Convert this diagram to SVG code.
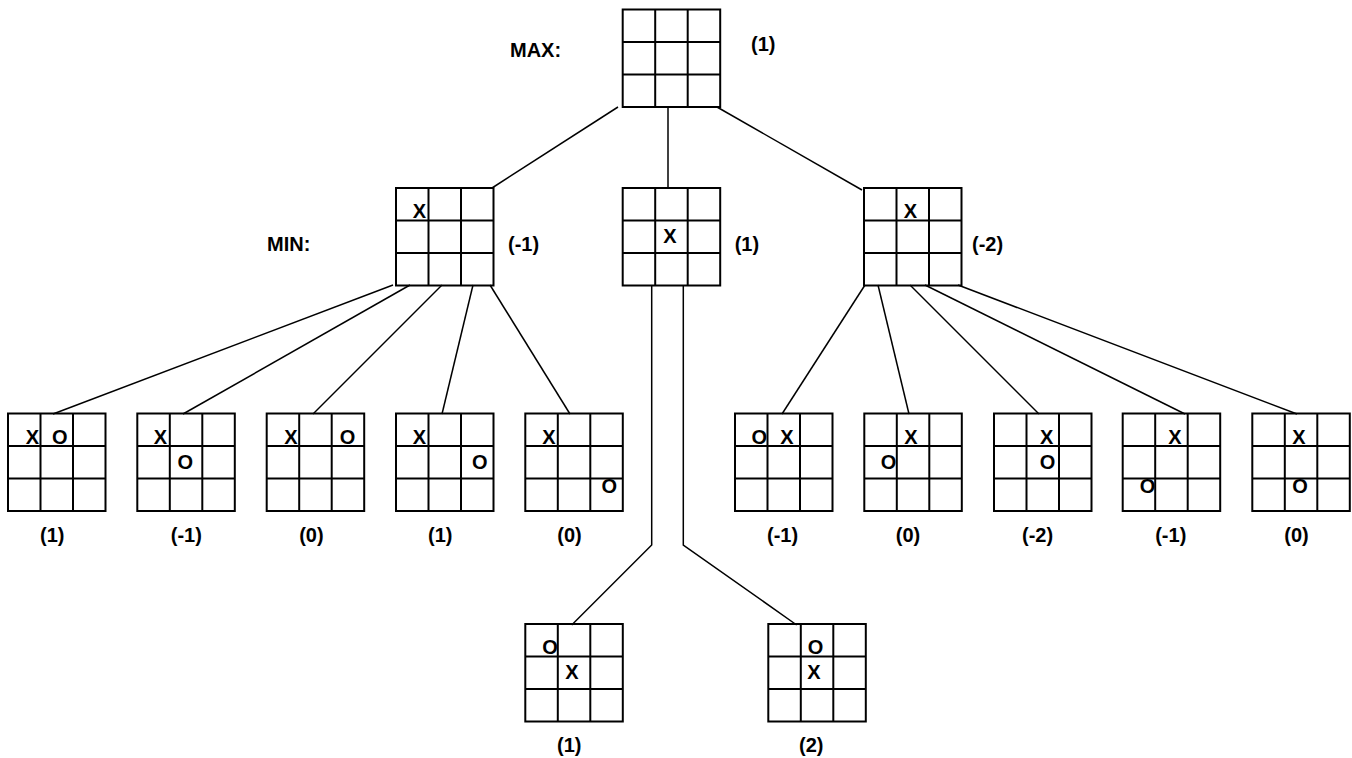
<svg xmlns="http://www.w3.org/2000/svg" xmlns:xlink="http://www.w3.org/1999/xlink" width="1352" height="758" viewBox="0 0 1352 758">
<style>
.grid{fill:none;stroke:#000;stroke-width:2}
.conn line,.conn polyline{stroke:#000;stroke-width:1.5;fill:none}
text{font-family:"Liberation Sans",Arial,sans-serif;font-weight:bold;font-size:20px;fill:#000}
.m{text-anchor:middle}
</style>
<defs>
<g id="board" class="grid">
<rect x="0" y="0" width="97.5" height="97.5"/>
<line x1="32.5" y1="0" x2="32.5" y2="97.5"/>
<line x1="65" y1="0" x2="65" y2="97.5"/>
<line x1="0" y1="32.5" x2="97.5" y2="32.5"/>
<line x1="0" y1="65" x2="97.5" y2="65"/>
</g>
</defs>
<rect width="1352" height="758" fill="#fff"/>
<g class="conn" id="connectors">
<line x1="618" y1="107" x2="492" y2="188"/>
<line x1="668" y1="107" x2="668" y2="188"/>
<line x1="717" y1="107" x2="862" y2="190"/>
<line x1="393" y1="285" x2="53" y2="414"/>
<line x1="410" y1="285" x2="183" y2="414"/>
<line x1="442" y1="285" x2="313" y2="414"/>
<line x1="473" y1="285" x2="442" y2="414"/>
<line x1="490" y1="285" x2="570" y2="414"/>
<polyline points="651.7,285 651.7,545 571.7,625"/>
<polyline points="683.3,285 683.3,545 796.7,625"/>
<line x1="865" y1="285" x2="782" y2="414"/>
<line x1="878" y1="285" x2="909" y2="414"/>
<line x1="910" y1="285" x2="1039" y2="414"/>
<line x1="925" y1="285" x2="1185" y2="414"/>
<line x1="958" y1="285" x2="1297" y2="414"/>
</g>
<g id="root" transform="translate(622.7,9.5)"><use xlink:href="#board"/></g>
<text x="510" y="57">MAX:</text>
<text x="751" y="51">(1)</text>
<text x="267" y="251">MIN:</text>
<g id="m1" transform="translate(396,188)"><use xlink:href="#board"/><text class="m" x="23.5" y="30">X</text><text x="112" y="63">(-1)</text></g>
<g id="m2" transform="translate(622.7,188)"><use xlink:href="#board"/><text class="m" x="47.3" y="55">X</text><text x="112" y="63">(1)</text></g>
<g id="m3" transform="translate(864,188)"><use xlink:href="#board"/><text class="m" x="46.5" y="30">X</text><text x="108" y="63">(-2)</text></g>
<g id="b1" transform="translate(8,413.5)"><use xlink:href="#board"/><text class="m" x="24.5" y="30.5">X</text><text class="m" x="51.7" y="30.5">O</text><text x="32" y="128">(1)</text></g>
<g id="b2" transform="translate(137.3,413.5)"><use xlink:href="#board"/><text class="m" x="23" y="30.5">X</text><text class="m" x="47.9" y="55.5">O</text><text x="33.5" y="128">(-1)</text></g>
<g id="b3" transform="translate(266.7,413.5)"><use xlink:href="#board"/><text class="m" x="24.3" y="30.5">X</text><text class="m" x="80.8" y="30.5">O</text><text x="32.5" y="128">(0)</text></g>
<g id="b4" transform="translate(396,413.5)"><use xlink:href="#board"/><text class="m" x="23.3" y="30.5">X</text><text class="m" x="83.7" y="55.5">O</text><text x="32" y="128">(1)</text></g>
<g id="b5" transform="translate(525.3,413.5)"><use xlink:href="#board"/><text class="m" x="23.7" y="30.5">X</text><text class="m" x="83.9" y="79.5">O</text><text x="32" y="128">(0)</text></g>
<g id="b6" transform="translate(735,413.5)"><use xlink:href="#board"/><text class="m" x="24.2" y="30.5">O</text><text class="m" x="52" y="30.5">X</text><text x="32" y="128">(-1)</text></g>
<g id="b7" transform="translate(864.3,413.5)"><use xlink:href="#board"/><text class="m" x="46.5" y="30.5">X</text><text class="m" x="24.2" y="55.5">O</text><text x="31.5" y="128">(0)</text></g>
<g id="b8" transform="translate(994,413.5)"><use xlink:href="#board"/><text class="m" x="52.7" y="30.5">X</text><text class="m" x="53.5" y="55.5">O</text><text x="28" y="128">(-2)</text></g>
<g id="b9" transform="translate(1122.7,413.5)"><use xlink:href="#board"/><text class="m" x="52.3" y="30.5">X</text><text class="m" x="24.8" y="79.5">O</text><text x="32.5" y="128">(-1)</text></g>
<g id="b10" transform="translate(1252.3,413.5)"><use xlink:href="#board"/><text class="m" x="46.5" y="30.5">X</text><text class="m" x="47.7" y="79.5">O</text><text x="32" y="128">(0)</text></g>
<g id="l1" transform="translate(525.3,624)"><use xlink:href="#board"/><text class="m" x="24.7" y="30">O</text><text class="m" x="46.7" y="55">X</text><text x="31.7" y="127.5">(1)</text></g>
<g id="l2" transform="translate(768.3,624)"><use xlink:href="#board"/><text class="m" x="47.2" y="30">O</text><text class="m" x="45.7" y="55">X</text><text x="30.7" y="127.5">(2)</text></g>
</svg>
